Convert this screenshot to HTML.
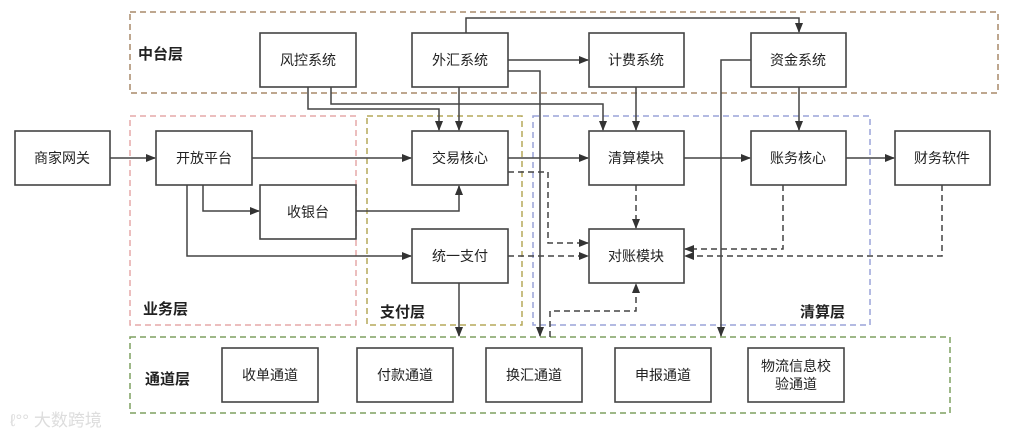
<!DOCTYPE html>
<html><head><meta charset="utf-8"><style>
body{margin:0;background:#fff;}
svg{display:block;font-family:"Liberation Sans","Noto Sans CJK SC",sans-serif;}
.n{fill:#fff;stroke:#444;stroke-width:1.6;}
.t{font-size:14px;fill:#222;text-anchor:middle;dominant-baseline:central;}
.l{font-size:15px;font-weight:bold;fill:#222;}
.c{fill:none;stroke:#444;stroke-width:1.5;}
.d{fill:none;stroke:#444;stroke-width:1.5;stroke-dasharray:6,4;}
</style></head><body>
<svg width="1013" height="437" viewBox="0 0 1013 437">
<defs><marker id="a" markerWidth="10" markerHeight="8" refX="9" refY="4" orient="auto" markerUnits="userSpaceOnUse"><path d="M0,0 L10,4 L0,8 z" fill="#333"/></marker></defs>
<rect x="130" y="12" width="868" height="81" fill="none" stroke="#a88a6a" stroke-width="1.5" stroke-dasharray="6,4"/>
<rect x="130" y="116" width="226" height="209" fill="none" stroke="#e6a8a8" stroke-width="1.5" stroke-dasharray="6,4"/>
<rect x="367" y="116" width="155" height="209" fill="none" stroke="#b5a85a" stroke-width="1.5" stroke-dasharray="6,4"/>
<rect x="533" y="116" width="337" height="209" fill="none" stroke="#9aa3d8" stroke-width="1.5" stroke-dasharray="6,4"/>
<rect x="130" y="337" width="820" height="76" fill="none" stroke="#7fa060" stroke-width="1.5" stroke-dasharray="6,4"/>
<text class="l" x="138" y="59">中台层</text>
<text class="l" x="143" y="314">业务层</text>
<text class="l" x="380" y="317">支付层</text>
<text class="l" x="800" y="317">清算层</text>
<text class="l" x="145" y="384">通道层</text>
<path class="c" d="M110,158 H155" marker-end="url(#a)"/>
<path class="c" d="M252,158 H411" marker-end="url(#a)"/>
<path class="c" d="M203,185 V211 H259" marker-end="url(#a)"/>
<path class="c" d="M187,185 V256 H411" marker-end="url(#a)"/>
<path class="c" d="M356,211 H459 V186" marker-end="url(#a)"/>
<path class="c" d="M308,87 V109 H439 V130" marker-end="url(#a)"/>
<path class="c" d="M331,87 V104 H603 V130" marker-end="url(#a)"/>
<path class="c" d="M459,87 V130" marker-end="url(#a)"/>
<path class="c" d="M466,33 V18 H799 V32" marker-end="url(#a)"/>
<path class="c" d="M508,60 H588" marker-end="url(#a)"/>
<path class="c" d="M508,71 H540 V336" marker-end="url(#a)"/>
<path class="c" d="M751,60 H721 V336" marker-end="url(#a)"/>
<path class="c" d="M636,87 V130" marker-end="url(#a)"/>
<path class="c" d="M799,87 V130" marker-end="url(#a)"/>
<path class="c" d="M508,158 H588" marker-end="url(#a)"/>
<path class="c" d="M684,158 H750" marker-end="url(#a)"/>
<path class="c" d="M846,158 H894" marker-end="url(#a)"/>
<path class="c" d="M459,283 V336" marker-end="url(#a)"/>
<path class="d" d="M508,172 H548 V243 H588" marker-end="url(#a)"/>
<path class="d" d="M508,256 H588" marker-end="url(#a)"/>
<path class="d" d="M636,185 V228" marker-end="url(#a)"/>
<path class="d" d="M783,185 V249 H685" marker-end="url(#a)"/>
<path class="d" d="M942,185 V256 H685" marker-end="url(#a)"/>
<path class="d" d="M550,337 V311 H636 V284" marker-end="url(#a)"/>
<rect class="n" x="15" y="131" width="95" height="54"/><text class="t" x="62" y="158">商家网关</text>
<rect class="n" x="156" y="131" width="96" height="54"/><text class="t" x="204" y="158">开放平台</text>
<rect class="n" x="260" y="185" width="96" height="54"/><text class="t" x="308" y="212">收银台</text>
<rect class="n" x="412" y="131" width="96" height="54"/><text class="t" x="460" y="158">交易核心</text>
<rect class="n" x="412" y="229" width="96" height="54"/><text class="t" x="460" y="256">统一支付</text>
<rect class="n" x="260" y="33" width="96" height="54"/><text class="t" x="308" y="60">风控系统</text>
<rect class="n" x="412" y="33" width="96" height="54"/><text class="t" x="460" y="60">外汇系统</text>
<rect class="n" x="589" y="33" width="95" height="54"/><text class="t" x="636" y="60">计费系统</text>
<rect class="n" x="751" y="33" width="95" height="54"/><text class="t" x="798" y="60">资金系统</text>
<rect class="n" x="589" y="131" width="95" height="54"/><text class="t" x="636" y="158">清算模块</text>
<rect class="n" x="751" y="131" width="95" height="54"/><text class="t" x="798" y="158">账务核心</text>
<rect class="n" x="895" y="131" width="95" height="54"/><text class="t" x="942" y="158">财务软件</text>
<rect class="n" x="589" y="229" width="95" height="54"/><text class="t" x="636" y="256">对账模块</text>
<rect class="n" x="222" y="348" width="96" height="54"/><text class="t" x="270" y="375">收单通道</text>
<rect class="n" x="357" y="348" width="96" height="54"/><text class="t" x="405" y="375">付款通道</text>
<rect class="n" x="486" y="348" width="96" height="54"/><text class="t" x="534" y="375">换汇通道</text>
<rect class="n" x="615" y="348" width="96" height="54"/><text class="t" x="663" y="375">申报通道</text>
<rect class="n" x="748" y="348" width="96" height="54"/><text class="t" x="796" y="366">物流信息校</text><text class="t" x="796" y="384">验通道</text>
<text x="10" y="426" font-size="17" fill="#ddd">ℓ°° 大数跨境</text>
</svg>
</body></html>
